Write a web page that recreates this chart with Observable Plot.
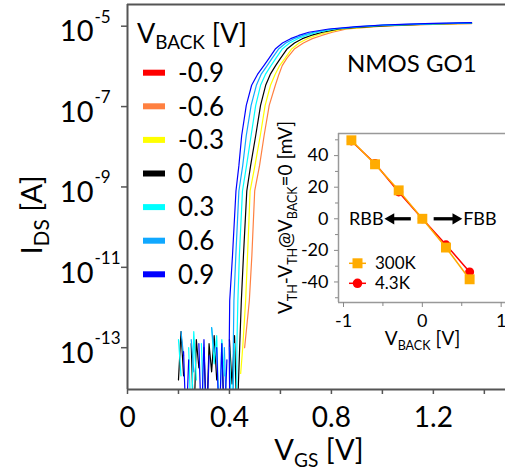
<!DOCTYPE html>
<html><head><meta charset="utf-8">
<script src="https://cdn.jsdelivr.net/npm/d3@7"></script>
<script src="https://cdn.jsdelivr.net/npm/@observablehq/plot@0.6"></script>
<style>
body{margin:0;background:#fff;overflow:hidden}
#wrap{position:relative;width:505px;height:475px;font-family:Lato,"Open Sans",sans-serif}
#wrap svg{position:absolute}
</style></head><body><div id="wrap"></div>
<script>
// ---------- main panel data ----------
const vBackLabels = ["-0.9","-0.6","-0.3","0","0.3","0.6","0.9"];
const curveColors = ["#ff0000","#ff8040","#ffff00","#000000","#00ffff","#10a8ff","#0000ff"];

// log10(I_DS) levels of the rising part, with V_GS per curve
const riseLevels = [-13, -11.83, -10.7, -9.1, -8.47, -7.72, -6.97, -6.47, -6.2, -5.98, -5.8, -5.56, -5.42, -5.31, -5.23, -5.15, -5.07];
const rise_m06 = [0.4595, 0.478, 0.488, 0.499, 0.518, 0.536, 0.556, 0.580, 0.594, 0.607, 0.625, 0.656, 0.690, 0.725, 0.762, 0.804, 0.860];
const rise_m03 = [0.452, 0.4635, 0.471, 0.481, 0.500, 0.521, 0.540, 0.561, 0.579, 0.597, 0.618, 0.645, 0.673, 0.705, 0.740, 0.785, 0.845];
const rise_0   = [0.440, 0.4466, 0.455, 0.468, 0.483, 0.503, 0.522, 0.542, 0.560, 0.581, 0.600, 0.627, 0.655, 0.686, 0.720, 0.765, 0.830];
const rise_03  = [0.429, 0.433, 0.439, 0.451, 0.467, 0.485, 0.503, 0.522, 0.541, 0.563, 0.582, 0.608, 0.636, 0.668, 0.702, 0.746, 0.815];
const rise_06  = [0.415, 0.4175, 0.425, 0.437, 0.452, 0.466, 0.485, 0.5055, 0.524, 0.548, 0.567, 0.594, 0.621, 0.653, 0.687, 0.730, 0.803];
const rise_09  = [0.399, 0.401, 0.412, 0.4255, 0.437, 0.448, 0.466, 0.487, 0.510, 0.535, 0.555, 0.581, 0.608, 0.640, 0.672, 0.711, 0.790];

// saturation part
const satV = [0.9, 1.0, 1.1, 1.2, 1.35];
const sat_m06 = [-5.05, -5.0, -4.975, -4.955, -4.935];
const sat_m03 = [-5.04, -4.995, -4.97, -4.95, -4.93];
const sat_0   = [-5.03, -4.99, -4.965, -4.945, -4.925];
const sat_03  = [-5.02, -4.98, -4.96, -4.94, -4.92];
const sat_06  = [-5.015, -4.975, -4.955, -4.935, -4.915];
const sat_09  = [-5.01, -4.97, -4.95, -4.93, -4.91];

// lowest point of each rising edge [V_GS, log10 I]
const foot_m03 = [0.444, -13.64];
const foot_0   = [0.433, -14.3];
const foot_03  = [0.428, -14.3];
const foot_06  = [0.414, -14.3];
const foot_09  = [0.401, -14.3];

// noise floor (log10 I), null = no valid reading
const noiseV = [0.20,0.21,0.22,0.23,0.24,0.25,0.26,0.27,0.28,0.29,0.30,0.31,0.32,0.33,0.34,0.35,0.36,0.37,0.38,0.39,0.40,0.41,0.42,0.43];
const noise_0  = [-13.8,-12.6,-13.7,null,null,-12.9,-15,-12.8,-13.5,null,-13.0,-15,-12.9,-13.6,-12.7,-13.8,null,-12.9,-15,null,-12.8,-13.9,-12.7,-15];
const noise_03 = [-12.8,-13.7,null,null,-13.0,-15,-12.6,-13.8,null,-12.9,-15,null,null,-12.5,-13.4,-12.7,-15,-12.8,-13.7,null,-13.0,-15,-12.9,null];
const noise_06 = [null,-12.6,-13.2,null,null,-12.8,-13.6,null,null,null,null,null,null,-12.5,-13.1,null,null,null,-13.0,-15,null,null,null,null];
const noise_09 = [null,null,-13.1,-15,-13.3,null,null,null,-12.9,-15,-12.8,-15,-13.2,null,null,-13.0,-15,-12.9,-15,-13.3,null,null,null,null];

const yTicks = [1e-5, 1e-7, 1e-9, 1e-11, 1e-13];
const yExpLabels = ["-5","-7","-9","-11","-13"];
const xTicks = [0, 0.4, 0.8, 1.2];
const xTickLabels = ["0","0.4","0.8","1.2"];
const xMinorTicks = [0.2, 0.6, 1.0, 1.4];

// ---------- inset data ----------
const vBack = [-0.9, -0.6, -0.3, 0, 0.3, 0.6];
const dVth300K = [49.7, 34.5, 18.0, 0, -18.2, -38.3];
const dVth4K = [49.3, 35.0, 17.0, 0, -16.5, -33.7];
const insetYTicks = [40, 20, 0, -20, -40];
const insetYLabels = ["40","20","0","-20","-40"];
const insetYMinor = [50, 30, 10, -10, -30, -50];
const insetXTicks = [-1, 0, 1];
const insetXLabels = ["-1","0","1"];
const insetXMinor = [-0.5, 0.5];

// ---------- build series ----------
function series(noise, foot, rise, sat) {
  const pts = [];
  if (noise) noise.forEach((e, k) => pts.push({v: noiseV[k], i: e == null ? NaN : 10 ** e}));
  if (foot) pts.push({v: foot[0], i: 10 ** foot[1]});
  rise.forEach((vv, k) => pts.push({v: vv, i: 10 ** riseLevels[k]}));
  sat.forEach((e, k) => pts.push({v: satV[k], i: 10 ** e}));
  return pts;
}
const curves = [
  {c: curveColors[1], d: series(null, null, rise_m06, sat_m06)},
  {c: curveColors[2], d: series(null, foot_m03, rise_m03, sat_m03)},
  {c: curveColors[3], d: series(noise_0, foot_0, rise_0, sat_0)},
  {c: curveColors[4], d: series(noise_03, foot_03, rise_03, sat_03)},
  {c: curveColors[5], d: series(noise_06, foot_06, rise_06, sat_06)},
  {c: curveColors[6], d: series(noise_09, foot_09, rise_09, sat_09)}
];

const yMin = 10 ** -14.04, yMax = 10 ** -4.46;
const xMax = 1.483;
const pxPerV = 378 / xMax, pxPerDec = 385 / 9.58;
const font = "Lato, 'Open Sans', sans-serif";

const main = Plot.plot({
  width: 505, height: 475,
  marginLeft: 127, marginRight: 0, marginTop: 4, marginBottom: 86,
  style: {fontFamily: font, background: "transparent", overflow: "visible"},
  x: {domain: [0, xMax], axis: null},
  y: {type: "log", domain: [yMin, yMax], axis: null},
  marks: [
    ...curves.map(s => Plot.line(s.d, {x: "v", y: "i", stroke: s.c, strokeWidth: 1.2, clip: true})),
    Plot.ruleX([0], {stroke: "#555", strokeWidth: 2}),
    Plot.ruleY([yMin], {stroke: "#555", strokeWidth: 2}),
    Plot.ruleY([yMax], {stroke: "#555", strokeWidth: 2}),
    Plot.ruleY(yTicks, {x1: 0, x2: -6 / pxPerV, stroke: "#555", strokeWidth: 1.5}),
    Plot.text(yTicks, {y: d => d, text: () => "10", frameAnchor: "left", dx: -34, dy: 6, textAnchor: "end", fontSize: 29, fill: "black"}),
    Plot.text(yTicks, {y: d => d, text: (d, k) => yExpLabels[k], frameAnchor: "left", dx: -33, dy: -9, textAnchor: "start", fontSize: 17, fill: "black"}),
    Plot.ruleX(xTicks.concat(xMinorTicks), {y1: yMin, y2: yMin / 10 ** (5 / pxPerDec), stroke: "#555", strokeWidth: 1.5}),
    Plot.text(xTicks, {x: d => d, text: (d, k) => xTickLabels[k], frameAnchor: "bottom", dy: 18, lineAnchor: "top", fontSize: 28, fill: "black"})
  ]
});
main.style.left = "0px"; main.style.top = "0px";
document.getElementById("wrap").appendChild(main);

const xL = -1.0635, xR = 1.055, yB = -53, yT = 54;
const ipxV = 167 / (xR - xL), ipxMV = 169 / (yT - yB);
const inset = Plot.plot({
  width: 245, height: 260,
  marginLeft: 78, marginRight: 0, marginTop: 33, marginBottom: 58,
  style: {fontFamily: font, background: "transparent", overflow: "visible"},
  x: {domain: [xL, xR], axis: null},
  y: {domain: [yB, yT], axis: null},
  marks: [
    Plot.ruleX([xL], {stroke: "#999", strokeWidth: 1.5}),
    Plot.ruleY([yB], {stroke: "#999", strokeWidth: 1.5}),
    Plot.ruleY([yT], {stroke: "#999", strokeWidth: 1.5}),
    Plot.ruleY(insetYTicks, {x1: xL, x2: xL - 4 / ipxV, stroke: "#888"}),
    Plot.ruleY(insetYMinor, {x1: xL, x2: xL - 3 / ipxV, stroke: "#888"}),
    Plot.text(insetYTicks, {y: d => d, text: (d, k) => insetYLabels[k], frameAnchor: "left", dx: -10, textAnchor: "end", fontSize: 18, fill: "black"}),
    Plot.ruleX(insetXTicks, {y1: yB, y2: yB - 5 / ipxMV, stroke: "#888"}),
    Plot.ruleX(insetXMinor, {y1: yB, y2: yB - 4 / ipxMV, stroke: "#888"}),
    Plot.text(insetXTicks, {x: d => d, text: (d, k) => insetXLabels[k], frameAnchor: "bottom", dy: 12, lineAnchor: "top", fontSize: 18, fill: "black"}),
    Plot.line(vBack, {x: d => d, y: (d, k) => dVth4K[k], stroke: "#ff0000", strokeWidth: 1.5}),
    Plot.dot(vBack, {x: d => d, y: (d, k) => dVth4K[k], r: 4.5, fill: "#ff0000", stroke: "none"}),
    Plot.line(vBack, {x: d => d, y: (d, k) => dVth300K[k], stroke: "#ffa800", strokeWidth: 1.5}),
    Plot.dot(vBack, {x: d => d, y: (d, k) => dVth300K[k], symbol: "square", r: 5.6, fill: "#ffac00", stroke: "none"}),
    Plot.ruleY([0], {x1: -0.14, x2: -0.39, stroke: "black", strokeWidth: 3.3}),
    Plot.ruleY([0], {x1: 0.15, x2: 0.42, stroke: "black", strokeWidth: 3.3}),
    Plot.dot([-0.398], {x: d => d, y: 0, symbol: "triangle", r: 4.2, fill: "black", rotate: -90}),
    Plot.dot([0.424], {x: d => d, y: 0, symbol: "triangle", r: 4.2, fill: "black", rotate: 90}),
    Plot.text(["RBB"], {x: -0.71, y: 0, text: d => d, fontSize: 18, fill: "black"}),
    Plot.text(["FBB"], {x: 0.73, y: 0, text: d => d, fontSize: 18, fill: "black"})
  ]
});
inset.style.left = "260px"; inset.style.top = "100px";
document.getElementById("wrap").appendChild(inset);

// ---------- overlay text (labels, legends) ----------
const ov = d3.select("#wrap").append("svg")
  .attr("width", 505).attr("height", 475)
  .style("left", "0px").style("top", "0px")
  .style("font-family", font);

function rich(sel, parts, base, ratio = 0.66) {
  let shift = 0;
  parts.forEach(p => {
    const target = p[1] ? Math.round(base * 0.24) : 0;
    sel.append("tspan").attr("font-size", p[1] ? base * ratio : base)
      .attr("dy", target - shift).text(p[0]);
    shift = target;
  });
}

rich(ov.append("text").attr("x", 319).attr("y", 460).attr("text-anchor", "middle"),
  [["V"], ["GS", 1], ["\u00a0[V]"]], 29);
rich(ov.append("text").attr("transform", "translate(42,215) rotate(-90)").attr("text-anchor", "middle"),
  [["I"], ["DS", 1], ["\u00a0[A]"]], 29, 0.72);

// main legend
rich(ov.append("text").attr("x", 137).attr("y", 43), [["V"], ["BACK", 1], ["\u00a0[V]"]], 27, 0.7);
vBackLabels.forEach((lab, k) => {
  const cy = 72.7 + 33.6 * k;
  ov.append("rect").attr("x", 143).attr("y", cy - 3).attr("width", 22).attr("height", 6).attr("fill", curveColors[k]);
  ov.append("text").attr("x", 178).attr("y", cy + 9.3).attr("font-size", 26).text(lab);
});
ov.append("text").attr("x", 347).attr("y", 72).attr("font-size", 24).text("NMOS GO1");

// inset labels
rich(ov.append("text").attr("transform", "translate(292,217.5) rotate(-90)").attr("text-anchor", "middle"),
  [["V"], ["TH", 1], ["-V"], ["TH", 1], ["@V"], ["BACK", 1], ["=0\u00a0[mV]"]], 19);
rich(ov.append("text").attr("x", 422.5).attr("y", 345).attr("text-anchor", "middle"),
  [["V"], ["BACK", 1], ["\u00a0[V]"]], 19);

// inset legend
const legIn = [["300K", "#ffa800", "square"], ["4.3K", "#ff0000", "circle"]];
legIn.forEach((e, k) => {
  const cy = 263.3 + 20 * k;
  ov.append("line").attr("x1", 349).attr("x2", 366).attr("y1", cy).attr("y2", cy).attr("stroke", e[1]).attr("stroke-width", 1.5);
  if (e[2] === "square") ov.append("rect").attr("x", 352.5).attr("y", cy - 5).attr("width", 10).attr("height", 10).attr("fill", "#ffac00");
  else ov.append("circle").attr("cx", 357.5).attr("cy", cy).attr("r", 4.8).attr("fill", e[1]);
  ov.append("text").attr("x", 375).attr("y", cy + 6).attr("font-size", 17).text(e[0]);
});
</script></body></html>
